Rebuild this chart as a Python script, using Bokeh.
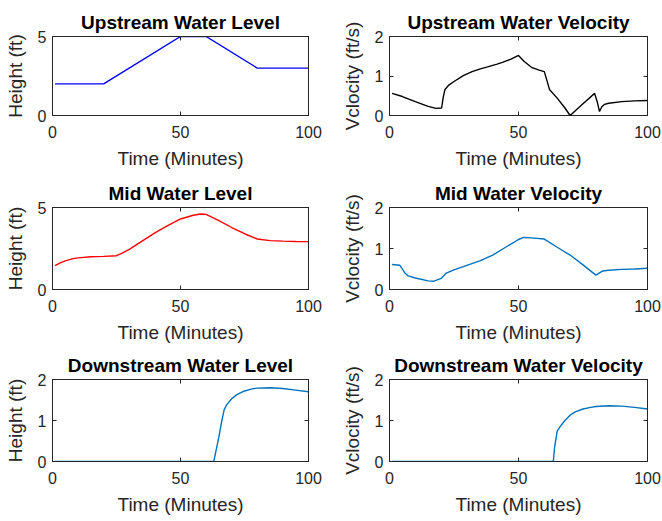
from bokeh.plotting import figure
from bokeh.layouts import gridplot
from bokeh.models import Range1d, LinearAxis, FixedTicker
from bokeh.embed import file_html
from bokeh.resources import INLINE

FONT = "Liberation Sans"
TEXT = "#262626"

# ---------------- data ----------------
titles = ["Upstream Water Level", "Upstream Water Velocity",
          "Mid Water Level", "Mid Water Velocity",
          "Downstream Water Level", "Downstream Water Velocity"]
time_label = "Time (Minutes)"
height_label = "Height (ft)"
velocity_label = "Vclocity (ft/s)"
x_ticks = [0, 50, 100]
level_ticks = [0, 5]
velocity_ticks = [0, 1, 2]
down_level_ticks = [0, 1, 2]

up_level_t = [1, 20, 50, 60, 80, 100]
up_level_h = [2.0, 2.0, 5.0, 5.0, 3.0, 3.0]

up_vel_t = [1, 5, 10, 15, 18, 20.2, 20.8, 21.5, 23, 25, 28.6, 32, 35.2, 38, 41.7, 44, 46.9, 50,
            52, 55, 58, 60, 61, 62, 65, 68, 70, 75, 79.5, 80.5, 81.4, 82.3, 83.3, 85, 90, 95, 100]
up_vel_v = [0.56, 0.48, 0.35, 0.23, 0.18, 0.19, 0.45, 0.66, 0.77, 0.86, 1.01, 1.11, 1.18, 1.23, 1.30, 1.35, 1.42, 1.52,
            1.38, 1.22, 1.15, 1.11, 0.89, 0.66, 0.44, 0.19, 0.0, 0.30, 0.56, 0.35, 0.10, 0.22, 0.28, 0.31, 0.35, 0.37, 0.38]

mid_level_t = [1, 3, 5, 8, 10, 15, 20, 25, 27, 30, 35, 40, 45, 50, 55, 58, 60, 65, 70, 75, 80, 85, 90, 95, 100]
mid_level_h = [1.45, 1.62, 1.75, 1.88, 1.93, 2.0, 2.02, 2.06, 2.2, 2.45, 2.95, 3.45, 3.9, 4.3, 4.53, 4.6, 4.58,
               4.2, 3.78, 3.4, 3.08, 2.98, 2.95, 2.93, 2.92]

mid_vel_t = [1, 4, 5, 6, 7, 10, 15, 17, 20, 22, 25, 30, 35, 40, 45, 50, 52, 55, 60, 65, 70, 75, 80, 82.5, 85, 90, 95, 100]
mid_vel_v = [0.61, 0.59, 0.5, 0.4, 0.34, 0.28, 0.21, 0.2, 0.27, 0.4, 0.48, 0.59, 0.7, 0.84, 1.03, 1.22, 1.27, 1.26,
             1.23, 1.03, 0.84, 0.6, 0.35, 0.45, 0.47, 0.49, 0.5, 0.52]

down_level_t = [1, 63, 64, 65, 66, 67, 68, 70, 72, 75, 78, 80, 85, 90, 95, 100]
down_level_h = [0, 0, 0.3, 0.6, 0.95, 1.25, 1.38, 1.53, 1.63, 1.72, 1.77, 1.79, 1.80, 1.78, 1.74, 1.70]

down_vel_t = [1, 63.5, 64, 65, 66, 67, 68, 70, 72, 75, 78, 80, 85, 90, 95, 100]
down_vel_v = [0, 0, 0.35, 0.74, 0.84, 0.92, 1.0, 1.13, 1.21, 1.28, 1.32, 1.34, 1.36, 1.35, 1.32, 1.28]

series = [
    (up_level_t, up_level_h, "#0000FF", 5, level_ticks, height_label),
    (up_vel_t, up_vel_v, "#000000", 2, velocity_ticks, velocity_label),
    (mid_level_t, mid_level_h, "#FF0000", 5, level_ticks, height_label),
    (mid_vel_t, mid_vel_v, "#0072BD", 2, velocity_ticks, velocity_label),
    (down_level_t, down_level_h, "#0072BD", 2, down_level_ticks, height_label),
    (down_vel_t, down_vel_v, "#0072BD", 2, velocity_ticks, velocity_label),
]

# ---------------- layout ----------------
row_top = [36, 35, 33]
row_frame = [79, 82, 82]
row_bottom = [57, 57, 59]
col_left = [52, 58]
col_frame = [256, 258]
col_right = [23, 15]


def style_axis(ax, labels=True):
    ax.major_tick_in = 4
    ax.major_tick_out = 0
    ax.minor_tick_line_color = None
    ax.axis_line_color = TEXT
    ax.major_tick_line_color = TEXT
    if labels:
        ax.major_label_text_font = FONT
        ax.major_label_text_font_size = "16px"
        ax.major_label_text_color = TEXT
        ax.axis_label_text_font = FONT
        ax.axis_label_text_font_size = "19px"
        ax.axis_label_text_font_style = "normal"
        ax.axis_label_text_color = TEXT
    else:
        # mirrored tick marks only (MATLAB "box on"), no labels drawn
        ax.major_label_text_font_size = "0px"
        ax.major_label_text_color = None
        ax.major_label_text_alpha = 0
        ax.major_label_standoff = 0


def make_panel(i):
    r, c = divmod(i, 2)
    t, v, color, ymax, yticks, ylab = series[i]
    p = figure(output_backend="svg", toolbar_location=None,
               frame_width=col_frame[c], frame_height=row_frame[r],
               min_border_left=col_left[c], min_border_right=col_right[c],
               min_border_top=row_top[r], min_border_bottom=row_bottom[r],
               x_range=Range1d(0, 100), y_range=Range1d(0, ymax))
    p.xgrid.visible = False
    p.ygrid.visible = False
    p.outline_line_color = TEXT
    p.background_fill_color = "white"
    p.border_fill_color = "white"

    p.xaxis.ticker = FixedTicker(ticks=x_ticks)
    p.yaxis.ticker = FixedTicker(ticks=yticks)
    p.xaxis.axis_label = time_label
    p.yaxis.axis_label = ylab
    style_axis(p.xaxis[0])
    style_axis(p.yaxis[0])
    p.xaxis.major_label_standoff = 10
    p.xaxis.axis_label_standoff = 7
    p.yaxis.major_label_standoff = 6
    p.yaxis.axis_label_standoff = 9

    top = LinearAxis(ticker=FixedTicker(ticks=x_ticks),
                     major_label_overrides={k: "" for k in x_ticks})
    style_axis(top, labels=False)
    p.add_layout(top, "above")
    right = LinearAxis(ticker=FixedTicker(ticks=yticks),
                       major_label_overrides={k: "" for k in yticks})
    style_axis(right, labels=False)
    p.add_layout(right, "right")

    p.title.text = titles[i]
    p.title.align = "center"
    p.title.text_font = FONT
    p.title.text_font_size = "19px"
    p.title.text_font_style = "bold"
    p.title.text_color = "#000000"
    p.title.standoff = 7

    p.line(t, v, line_color=color, line_width=1.4)
    return p


panels = [make_panel(i) for i in range(6)]
grid = gridplot([[panels[0], panels[1]], [panels[2], panels[3]], [panels[4], panels[5]]],
                toolbar_location=None)

open("out.html", "w").write(file_html(grid, INLINE))
